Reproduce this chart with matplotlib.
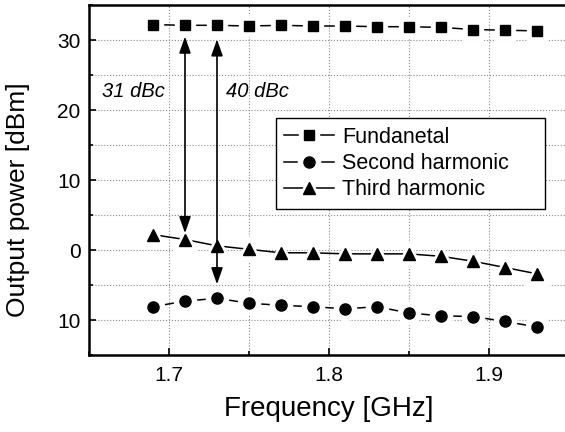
import matplotlib
matplotlib.use("Agg")
import matplotlib.pyplot as plt
from matplotlib.ticker import MultipleLocator
from matplotlib.legend_handler import HandlerTuple

plt.rcParams["font.family"] = ["Liberation Sans", "DejaVu Sans"]

freq = [1.69, 1.71, 1.73, 1.75, 1.77, 1.79, 1.81, 1.83, 1.85, 1.87, 1.89, 1.91, 1.93]
fundamental = [32.2, 32.1, 32.1, 32.0, 32.1, 32.0, 32.0, 31.9, 31.9, 31.8, 31.5, 31.4, 31.3]
second_harm = [-8.1, -7.3, -6.9, -7.6, -7.9, -8.1, -8.4, -8.1, -9.0, -9.4, -9.5, -10.2, -11.0]
third_harm = [2.2, 1.5, 0.6, 0.1, -0.4, -0.4, -0.55, -0.55, -0.55, -0.9, -1.6, -2.5, -3.4]

series_labels = ["Fundanetal", "Second harmonic", "Third harmonic"]

yticks = [30, 20, 10, 0, -10]
ytick_labels = ["30", "20", "10", "0", "10"]
xticks = [1.7, 1.8, 1.9]

# dBc arrows: x, top, bottom, label, label x
arrows = [(1.71, 30.5, 2.4, "31 dBc", 1.658),
          (1.73, 30.1, -4.9, "40 dBc", 1.7356)]
label_y = 22.6

fig = plt.figure(figsize=(5.65, 4.32), dpi=100)
ax = fig.add_axes([0.1575, 0.1782, 0.8496, 0.8102])

handles = []
for y, mk, ms in [(fundamental, "s", 7), (second_harm, "o", 8), (third_harm, "^", 9)]:
    ln, = ax.plot(freq, y, color="black", linewidth=1.1, zorder=2)
    halo, = ax.plot(freq, y, linestyle="none", marker=mk, markersize=ms + 8,
                    markerfacecolor="white", markeredgecolor="white", zorder=3)
    pt, = ax.plot(freq, y, linestyle="none", marker=mk, markersize=ms,
                  color="black", zorder=4)
    handles.append((ln, halo, pt))

for x, top, bot, txt, tx in arrows:
    ax.annotate("", xy=(x, bot), xytext=(x, top),
                arrowprops=dict(arrowstyle="<|-|>,head_length=1.0,head_width=0.35",
                                color="black", lw=1.2, shrinkA=0, shrinkB=0),
                zorder=5)
    ax.text(tx, label_y, txt, fontsize=14.5, style="italic", va="center", ha="left")

ax.set_xlim(1.65, 1.95)
ax.set_ylim(-15, 35)
ax.set_xticks(xticks)
ax.set_xticklabels([str(v) for v in xticks])
ax.set_yticks(yticks)
ax.set_yticklabels(ytick_labels)
ax.xaxis.set_minor_locator(MultipleLocator(0.05))
ax.yaxis.set_minor_locator(MultipleLocator(5))
ax.tick_params(which="both", direction="in", labelsize=15, width=1.2)
ax.tick_params(which="major", length=5)
ax.tick_params(which="minor", length=3)
ax.tick_params(axis="x", pad=8)
ax.tick_params(axis="y", pad=6)

ax.grid(True, which="both", color="0.55", linestyle=":", linewidth=0.8, zorder=0)
ax.set_axisbelow(True)

for s in ["left", "bottom", "top"]:
    ax.spines[s].set_linewidth(1.8)
ax.spines["right"].set_visible(False)

ax.set_xlabel("Frequency [GHz]", fontsize=20, labelpad=8)
ax.set_ylabel("Output power [dBm]", fontsize=19)
ax.yaxis.set_label_coords(-0.123, 0.443)

leg = ax.legend(handles, series_labels, handler_map={tuple: HandlerTuple(ndivide=1)},
                loc="upper left", bbox_to_anchor=(0.389, 0.42, 0.56, 0.257),
                mode="expand", fontsize=15.5, frameon=True, fancybox=False,
                edgecolor="black", framealpha=1, handlelength=2.3,
                handletextpad=0.4, labelspacing=0.25, borderpad=0.4,
                borderaxespad=0)
leg.get_frame().set_linewidth(1.0)

fig.savefig("out.png", dpi=100)
